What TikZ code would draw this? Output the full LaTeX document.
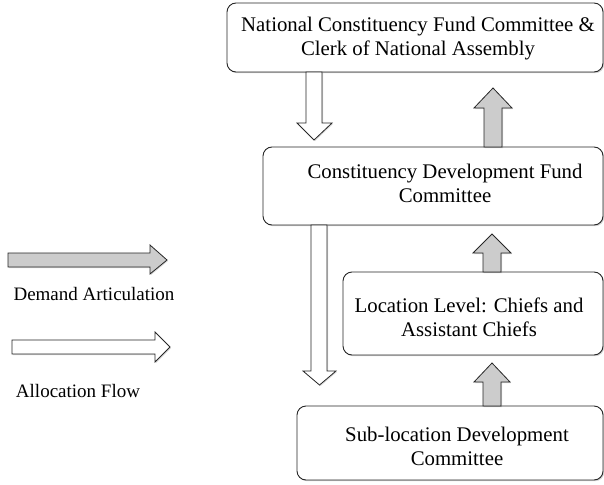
\documentclass[tikz,border=0pt]{standalone}
\usepackage{fontspec}
\setmainfont{Liberation Serif}
\usetikzlibrary{shadows}
\begin{document}
\begin{tikzpicture}[x=1pt,y=-1pt,
  box/.style={draw=black!85, line width=0.9pt, rounded corners=9pt, fill=white,
    drop shadow={shadow xshift=1.2pt, shadow yshift=-1.2pt, opacity=0.35}},
  txt/.style={align=center, font=\fontsize{20.8}{24}\selectfont, inner sep=0pt},
  legtxt/.style={font=\fontsize{19}{22}\selectfont, inner sep=0pt},
  garrow/.style={draw=black!85, line width=0.8pt, fill=black!20,
    drop shadow={shadow xshift=1pt, shadow yshift=-1pt, opacity=0.3}},
  warrow/.style={draw=black!85, line width=0.8pt, fill=white,
    drop shadow={shadow xshift=1pt, shadow yshift=-1pt, opacity=0.3}}]
\useasboundingbox (0,0) rectangle (604,484);
% boxes
\node[box, minimum width=376pt, minimum height=69pt] (ncf) at (415,37.5) {};
\node[txt] (ncft) at (418,39) {National Constituency Fund Committee \&\\Clerk of National Assembly};
\node[box, minimum width=340pt, minimum height=78pt] (cdf) at (433,186) {};
\node[txt] (cdft) at (445,183) {Constituency Development Fund\\Committee};
\node[box, minimum width=260pt, minimum height=83pt] (loc) at (473,313.5) {};
\node[txt] (loct) at (469,317) {Location Level: Chiefs and\\Assistant Chiefs};
\node[box, minimum width=306pt, minimum height=74pt] (sub) at (450,443) {};
\node[txt] (subt) at (457,446) {Sub-location Development\\Committee};
% block arrows
% ncf -> cdf (allocation, down)
\draw[warrow] (306,72) -- (306,123) -- (297,123) -- (314,140) -- (332,123) -- (322,123) -- (322,72) -- cycle;
% cdf -> ncf (demand, up)
\draw[garrow] (484,147) -- (484,108) -- (474,108) -- (493,88) -- (512,108) -- (502,108) -- (502,147) -- cycle;
% loc -> cdf (demand, up)
\draw[garrow] (483,272) -- (483,253) -- (473,253) -- (492,234) -- (511,253) -- (501,253) -- (501,272) -- cycle;
% cdf -> sub (allocation, down)
\draw[warrow] (311,225) -- (311,371) -- (303,371) -- (319.5,385) -- (336,371) -- (327,371) -- (327,225) -- cycle;
% sub -> loc (demand, up)
\draw[garrow] (483,406) -- (483,382) -- (474,382) -- (492,363) -- (510,382) -- (501,382) -- (501,406) -- cycle;
% legend
\draw[garrow] (8,253) -- (150,253) -- (150,245) -- (167,260) -- (150,274) -- (150,267) -- (8,267) -- cycle;
\node[legtxt] (lg1) at (94,294) {Demand Articulation};
\draw[warrow] (12,340) -- (155,340) -- (155,332) -- (170,347) -- (155,362) -- (155,354) -- (12,354) -- cycle;
\node[legtxt] (lg2) at (78,391) {Allocation Flow};
\end{tikzpicture}
\end{document}
